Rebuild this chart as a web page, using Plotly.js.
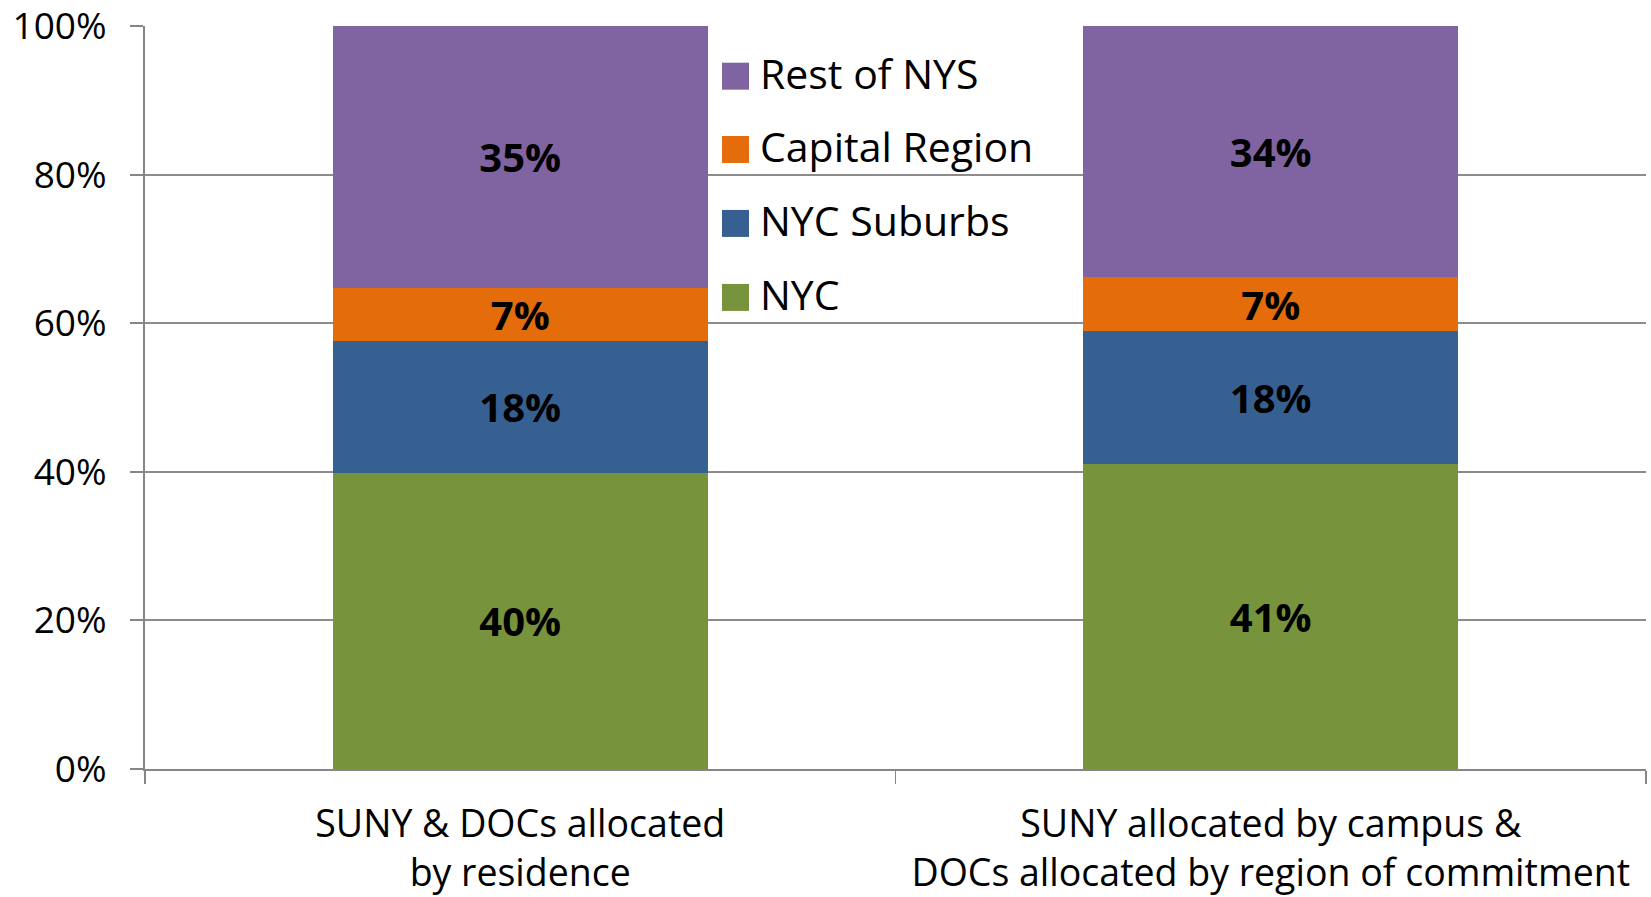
<!DOCTYPE html>
<html>
<head>
<meta charset="utf-8">
<script src="https://cdn.plot.ly/plotly-3.0.1.min.js"></script>
<style>
html,body{margin:0;padding:0;background:#fff;}
#chart{width:1651px;height:897px;}
</style>
</head>
<body>
<div id="chart"></div>
<script>
// ---- data ----
var categories = [
  "SUNY & DOCs allocated<br>by residence",
  "SUNY allocated by campus &<br>DOCs allocated by region of commitment"
];
var seriesNames = ["NYC", "NYC Suburbs", "Capital Region", "Rest of NYS"];
var nycValues = [39.9, 41.1];
var suburbsValues = [17.7, 17.8];
var capitalValues = [7.2, 7.3];
var restValues = [35.2, 33.8];
var seriesColors = ["#77933C", "#376092", "#E46C0A", "#8064A2"];
var yTickValues = [0, 20, 40, 60, 80, 100];

var seriesValues = [nycValues, suburbsValues, capitalValues, restValues];
var FONT = "'Open Sans', sans-serif";

var traces = seriesNames.map(function(name, i){
  return {
    type: "bar",
    name: name,
    x: categories,
    y: seriesValues[i],
    marker: {color: seriesColors[i], line: {width: 0}},
    texttemplate: "%{y:.0f}%",
    textposition: "inside",
    insidetextanchor: "middle",
    constraintext: "none",
    textangle: 0,
    textfont: {family: FONT, size: 40, color: "#000", weight: "bold"},
    hoverinfo: "skip",
    showlegend: false
  };
});

// custom legend (Rest of NYS on top)
var plotL = 145, plotR = 1646, plotT = 25.5, plotB = 768.7;
var pw = plotR - plotL, ph = plotB - plotT;
function px2x(p){ return (p - plotL) / pw; }
function py2y(p){ return (plotB - p) / ph * 100; }
var legendRowsPx = [75.7, 149, 223, 297];
var shapes = [], annotations = [];
var order = [3, 2, 1, 0];
order.forEach(function(si, r){
  var cy = legendRowsPx[r];
  shapes.push({
    type: "rect", xref: "paper", yref: "y",
    x0: px2x(722), x1: px2x(749),
    y0: py2y(cy + 13.5), y1: py2y(cy - 13.5),
    fillcolor: seriesColors[si], line: {width: 0}
  });
  annotations.push({
    xref: "paper", yref: "y", x: px2x(758), y: py2y(cy - 3),
    xanchor: "left", yanchor: "middle", showarrow: false,
    text: seriesNames[si],
    font: {family: FONT, size: 41, color: "#000"}
  });
});

var layout = {
  width: 1651, height: 897,
  margin: {l: plotL, r: 1651 - plotR, t: plotT, b: 897 - plotB},
  paper_bgcolor: "#fff", plot_bgcolor: "#fff",
  barmode: "stack",
  bargap: 0.5,
  showlegend: false,
  font: {family: FONT, color: "#000"},
  xaxis: {
    type: "category",
    showline: true, linecolor: "#868686", linewidth: 2,
    ticks: "outside", tickson: "boundaries", ticklen: 13, tickcolor: "#868686", tickwidth: 1.5,
    tickfont: {family: FONT, size: 37.5, color: "#000"},
    ticklabelstandoff: 21,
    ticklabeloverflow: "allow",
    showgrid: false, zeroline: false,
    fixedrange: true
  },
  yaxis: {
    range: [0, 100],
    tickvals: yTickValues,
    ticktext: yTickValues.map(function(v){ return v + "%"; }),
    showline: true, linecolor: "#868686", linewidth: 2,
    ticks: "outside", ticklen: 13, tickcolor: "#868686", tickwidth: 2,
    showgrid: true, gridcolor: "#8c8c8c", gridwidth: 2,
    zeroline: false,
    tickfont: {family: FONT, size: 37, color: "#000"},
    ticklabelstandoff: 16,
    ticklabeloverflow: "allow",
    fixedrange: true
  },
  shapes: shapes,
  annotations: annotations
};

Plotly.newPlot("chart", traces, layout, {displayModeBar: false, staticPlot: true});
</script>
</body>
</html>
